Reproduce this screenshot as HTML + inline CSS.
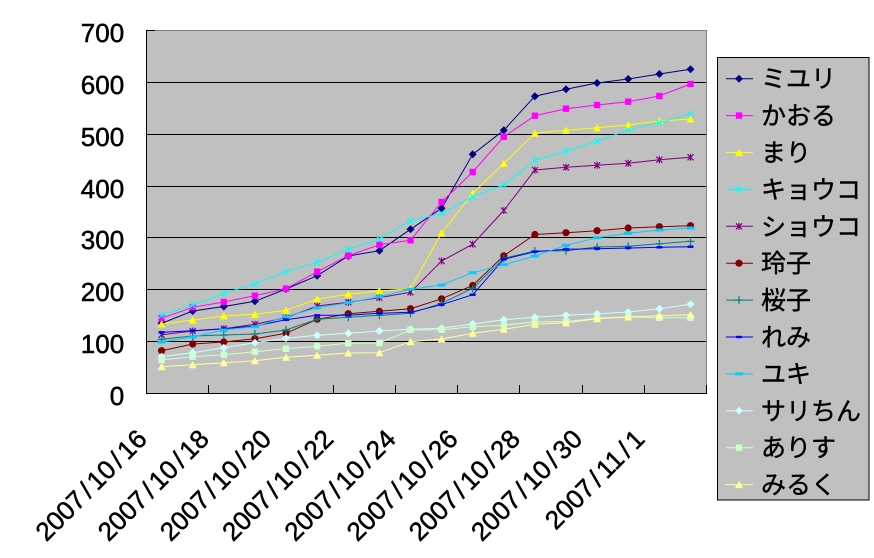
<!DOCTYPE html>
<html><head><meta charset="utf-8">
<style>
html,body{margin:0;padding:0;background:#fff;}
svg{display:block;}
.ax{font-family:"Liberation Sans",Arial,sans-serif;font-size:26px;fill:#000;stroke:#000;stroke-width:0.5;}
.lg{font-family:"Liberation Sans","Noto Sans CJK JP",sans-serif;font-size:25px;fill:#000;stroke:#000;stroke-width:0.4;}
polyline{fill:none;stroke-width:1;}
</style></head>
<body>
<svg width="874" height="558" viewBox="0 0 874 558" xmlns="http://www.w3.org/2000/svg">
<defs>
<marker id="m1" markerUnits="userSpaceOnUse" markerWidth="10" markerHeight="10" refX="0" refY="0" overflow="visible"><polygon points="0,-4 4,0 0,4 -4,0" fill="#000080"/></marker>
<marker id="m2" markerUnits="userSpaceOnUse" markerWidth="10" markerHeight="10" refX="0" refY="0" overflow="visible"><rect x="-3.2" y="-3.2" width="6.4" height="6.4" fill="#FF00FF"/></marker>
<marker id="m3" markerUnits="userSpaceOnUse" markerWidth="10" markerHeight="10" refX="0" refY="0" overflow="visible"><polygon points="0,-3.8 4,3.5 -4,3.5" fill="#FFFF00"/></marker>
<marker id="m4" markerUnits="userSpaceOnUse" markerWidth="10" markerHeight="10" refX="0" refY="0" overflow="visible"><path d="M-3,-3L3,3M-3,3L3,-3" stroke="#00FFFF" stroke-width="1.2" fill="none"/></marker>
<marker id="m5" markerUnits="userSpaceOnUse" markerWidth="10" markerHeight="10" refX="0" refY="0" overflow="visible"><path d="M-3,-3L3,3M-3,3L3,-3M0,-3.5V3.5" stroke="#800080" stroke-width="1.2" fill="none"/></marker>
<marker id="m6" markerUnits="userSpaceOnUse" markerWidth="10" markerHeight="10" refX="0" refY="0" overflow="visible"><circle r="3.6" fill="#800000"/></marker>
<marker id="m7" markerUnits="userSpaceOnUse" markerWidth="10" markerHeight="10" refX="0" refY="0" overflow="visible"><path d="M-4,0H4M0,-4V4" stroke="#008080" stroke-width="1.2" fill="none"/></marker>
<marker id="m8" markerUnits="userSpaceOnUse" markerWidth="10" markerHeight="10" refX="0" refY="0" overflow="visible"><rect x="-3" y="-1.2" width="6" height="2.4" fill="#0000FF"/></marker>
<marker id="m9" markerUnits="userSpaceOnUse" markerWidth="10" markerHeight="10" refX="0" refY="0" overflow="visible"><rect x="-4" y="-1.5" width="8" height="3" fill="#00CCFF"/></marker>
<marker id="m10" markerUnits="userSpaceOnUse" markerWidth="10" markerHeight="10" refX="0" refY="0" overflow="visible"><polygon points="0,-4 4,0 0,4 -4,0" fill="#CCFFFF"/></marker>
<marker id="m11" markerUnits="userSpaceOnUse" markerWidth="10" markerHeight="10" refX="0" refY="0" overflow="visible"><rect x="-3.2" y="-3.2" width="6.4" height="6.4" fill="#CCFFCC"/></marker>
<marker id="m12" markerUnits="userSpaceOnUse" markerWidth="10" markerHeight="10" refX="0" refY="0" overflow="visible"><polygon points="0,-3.8 4,3.5 -4,3.5" fill="#FFFF99"/></marker>
</defs>

<!-- plot area -->
<rect x="146" y="30" width="560" height="363" fill="#C0C0C0"/>
<g shape-rendering="crispEdges">
<line x1="146" y1="30.5" x2="706" y2="30.5" stroke="#808080"/>
<line x1="706.5" y1="30" x2="706.5" y2="393" stroke="#808080"/>
<g stroke="#000" stroke-width="1">
<line x1="146" y1="82.5" x2="706" y2="82.5"/>
<line x1="146" y1="134.5" x2="706" y2="134.5"/>
<line x1="146" y1="186.5" x2="706" y2="186.5"/>
<line x1="146" y1="237.5" x2="706" y2="237.5"/>
<line x1="146" y1="289.5" x2="706" y2="289.5"/>
<line x1="146" y1="341.5" x2="706" y2="341.5"/>
<line x1="146" y1="30.5" x2="155" y2="30.5"/>
<line x1="146.5" y1="30" x2="146.5" y2="394"/>
<line x1="146" y1="393.5" x2="707" y2="393.5"/>
<line x1="208.5" y1="385" x2="208.5" y2="393"/>
<line x1="270.5" y1="385" x2="270.5" y2="393"/>
<line x1="333.5" y1="385" x2="333.5" y2="393"/>
<line x1="395.5" y1="385" x2="395.5" y2="393"/>
<line x1="457.5" y1="385" x2="457.5" y2="393"/>
<line x1="519.5" y1="385" x2="519.5" y2="393"/>
<line x1="582.5" y1="385" x2="582.5" y2="393"/>
<line x1="644.5" y1="385" x2="644.5" y2="393"/>
<line x1="706.5" y1="385" x2="706.5" y2="393"/>
</g>
</g>

<!-- series -->
<polyline stroke="#000080" style="marker-start:url(#m1);marker-mid:url(#m1);marker-end:url(#m1)" points="161.6,323.3 192.7,311 223.8,306.5 254.9,301.3 286,289 317.2,275.7 348.3,256 379.4,250.7 410.5,229.3 441.6,208.3 472.7,154.3 503.8,130.3 534.9,96.2 566,89.3 597.1,83 628.2,79 659.4,74 690.5,69.3"/>
<polyline stroke="#FF00FF" style="marker-start:url(#m2);marker-mid:url(#m2);marker-end:url(#m2)" points="161.6,318.3 192.7,307.3 223.8,302 254.9,295.7 286,288.7 317.2,271.7 348.3,255.7 379.4,244.7 410.5,240.3 441.6,202 472.7,172 503.8,136.8 534.9,115.7 566,108.7 597.1,105 628.2,101.7 659.4,96 690.5,84"/>
<polyline stroke="#FFFF00" style="marker-start:url(#m3);marker-mid:url(#m3);marker-end:url(#m3)" points="161.6,324 192.7,320 223.8,316 254.9,314.3 286,310.3 317.2,299 348.3,294.3 379.4,291 410.5,288.7 441.6,233 472.7,193.3 503.8,163.5 534.9,133.2 566,130.3 597.1,127.7 628.2,125 659.4,121 690.5,119"/>
<polyline stroke="#00FFFF" style="marker-start:url(#m4);marker-mid:url(#m4);marker-end:url(#m4)" points="161.6,315.3 192.7,305 223.8,293.3 254.9,284 286,271.7 317.2,262.3 348.3,249.3 379.4,239 410.5,221 441.6,213.5 472.7,196.7 503.8,185 534.9,160.5 566,151 597.1,141.3 628.2,130 659.4,122.7 690.5,114"/>
<polyline stroke="#800080" style="marker-start:url(#m5);marker-mid:url(#m5);marker-end:url(#m5)" points="161.6,334.7 192.7,331 223.8,328.7 254.9,324.3 286,317.7 317.2,306 348.3,302.3 379.4,297.7 410.5,292.3 441.6,261 472.7,244.2 503.8,210.5 534.9,170 566,167.3 597.1,165.3 628.2,163.3 659.4,159.7 690.5,157.3"/>
<polyline stroke="#800000" style="marker-start:url(#m6);marker-mid:url(#m6);marker-end:url(#m6)" points="161.6,350.7 192.7,344 223.8,342 254.9,338.7 286,333.3 317.2,319.3 348.3,313.7 379.4,311.3 410.5,308.7 441.6,298.8 472.7,285.5 503.8,255.8 534.9,234.5 566,232.7 597.1,230.7 628.2,228 659.4,226.7 690.5,225.7"/>
<polyline stroke="#008080" style="marker-start:url(#m7);marker-mid:url(#m7);marker-end:url(#m7)" points="161.6,339.3 192.7,336 223.8,335 254.9,334 286,330 317.2,319.3 348.3,317.3 379.4,315.3 410.5,313.3 441.6,303.3 472.7,288.3 503.8,258.3 534.9,251 566,250.7 597.1,247 628.2,246.3 659.4,243.7 690.5,241.3"/>
<polyline stroke="#0000FF" style="marker-start:url(#m8);marker-mid:url(#m8);marker-end:url(#m8)" points="161.6,332.3 192.7,330.7 223.8,328.7 254.9,326 286,319.7 317.2,315.3 348.3,315.3 379.4,313.3 410.5,312.3 441.6,304.7 472.7,294.7 503.8,259.3 534.9,251.7 566,249.3 597.1,248.7 628.2,248 659.4,247.3 690.5,246.7"/>
<polyline stroke="#00CCFF" style="marker-start:url(#m9);marker-mid:url(#m9);marker-end:url(#m9)" points="161.6,342 192.7,337 223.8,330 254.9,326.7 286,316.7 317.2,307.7 348.3,302.7 379.4,296.7 410.5,289.3 441.6,285 472.7,272.7 503.8,264.7 534.9,256 566,245.3 597.1,237.7 628.2,233.3 659.4,230 690.5,228"/>
<polyline stroke="#CCFFFF" style="marker-start:url(#m10);marker-mid:url(#m10);marker-end:url(#m10)" points="161.6,356.7 192.7,352.7 223.8,347.7 254.9,342.7 286,338.3 317.2,335.3 348.3,333.3 379.4,331 410.5,329.3 441.6,328.3 472.7,324 503.8,319.7 534.9,317.3 566,315.3 597.1,313.7 628.2,312 659.4,308.7 690.5,304.3"/>
<polyline stroke="#CCFFCC" style="marker-start:url(#m11);marker-mid:url(#m11);marker-end:url(#m11)" points="161.6,360 192.7,356.7 223.8,354.7 254.9,351.7 286,348.7 317.2,346.3 348.3,343.3 379.4,343 410.5,330 441.6,329.7 472.7,326.7 503.8,325.3 534.9,321.7 566,321.7 597.1,318 628.2,317 659.4,317.7 690.5,317.7"/>
<polyline stroke="#FFFF99" style="marker-start:url(#m12);marker-mid:url(#m12);marker-end:url(#m12)" points="161.6,366.7 192.7,364.7 223.8,362.7 254.9,360.7 286,357.3 317.2,355.3 348.3,353 379.4,352.7 410.5,341.7 441.6,339 472.7,333.3 503.8,329.3 534.9,324.3 566,322.7 597.1,318.7 628.2,317 659.4,315.7 690.5,314.7"/>

<!-- y axis labels -->
<g class="ax" text-anchor="end">
<text x="124.2" y="42">700</text>
<text x="124.2" y="94">600</text>
<text x="124.2" y="146">500</text>
<text x="124.2" y="198">400</text>
<text x="124.2" y="249">300</text>
<text x="124.2" y="301">200</text>
<text x="124.2" y="353">100</text>
<text x="124.2" y="405">0</text>
</g>

<!-- x axis labels -->
<g class="ax" text-anchor="end">
<text transform="translate(148.3,440.5) rotate(-45)">2007<tspan dx="3.5">/</tspan><tspan dx="3.5">10</tspan><tspan dx="3.5">/</tspan><tspan dx="3.5">16</tspan></text>
<text transform="translate(210.5,440.5) rotate(-45)">2007<tspan dx="3.5">/</tspan><tspan dx="3.5">10</tspan><tspan dx="3.5">/</tspan><tspan dx="3.5">18</tspan></text>
<text transform="translate(272.7,440.5) rotate(-45)">2007<tspan dx="3.5">/</tspan><tspan dx="3.5">10</tspan><tspan dx="3.5">/</tspan><tspan dx="3.5">20</tspan></text>
<text transform="translate(334.9,440.5) rotate(-45)">2007<tspan dx="3.5">/</tspan><tspan dx="3.5">10</tspan><tspan dx="3.5">/</tspan><tspan dx="3.5">22</tspan></text>
<text transform="translate(397.2,440.5) rotate(-45)">2007<tspan dx="3.5">/</tspan><tspan dx="3.5">10</tspan><tspan dx="3.5">/</tspan><tspan dx="3.5">24</tspan></text>
<text transform="translate(459.4,440.5) rotate(-45)">2007<tspan dx="3.5">/</tspan><tspan dx="3.5">10</tspan><tspan dx="3.5">/</tspan><tspan dx="3.5">26</tspan></text>
<text transform="translate(521.6,440.5) rotate(-45)">2007<tspan dx="3.5">/</tspan><tspan dx="3.5">10</tspan><tspan dx="3.5">/</tspan><tspan dx="3.5">28</tspan></text>
<text transform="translate(583.8,440.5) rotate(-45)">2007<tspan dx="3.5">/</tspan><tspan dx="3.5">10</tspan><tspan dx="3.5">/</tspan><tspan dx="3.5">30</tspan></text>
<text transform="translate(646.1,440.5) rotate(-45)">2007<tspan dx="3.5">/</tspan><tspan dx="3.5">11</tspan><tspan dx="3.5">/</tspan><tspan dx="3.5">1</tspan></text>
</g>

<!-- legend -->
<rect x="717.5" y="57.5" width="151.5" height="442.5" fill="#C0C0C0" stroke="#000" stroke-width="1" shape-rendering="crispEdges"/>
<polyline stroke="#000080" style="marker-mid:url(#m1)" points="726,78.7 739,78.7 753,78.7"/>
<polyline stroke="#FF00FF" style="marker-mid:url(#m2)" points="726,115.6 739,115.6 753,115.6"/>
<polyline stroke="#FFFF00" style="marker-mid:url(#m3)" points="726,152.5 739,152.5 753,152.5"/>
<polyline stroke="#00FFFF" style="marker-mid:url(#m4)" points="726,189.4 739,189.4 753,189.4"/>
<polyline stroke="#800080" style="marker-mid:url(#m5)" points="726,226.3 739,226.3 753,226.3"/>
<polyline stroke="#800000" style="marker-mid:url(#m6)" points="726,263.2 739,263.2 753,263.2"/>
<polyline stroke="#008080" style="marker-mid:url(#m7)" points="726,300.1 739,300.1 753,300.1"/>
<polyline stroke="#0000FF" style="marker-mid:url(#m8)" points="726,337 739,337 753,337"/>
<polyline stroke="#00CCFF" style="marker-mid:url(#m9)" points="726,373.9 739,373.9 753,373.9"/>
<polyline stroke="#CCFFFF" style="marker-mid:url(#m10)" points="726,410.8 739,410.8 753,410.8"/>
<polyline stroke="#CCFFCC" style="marker-mid:url(#m11)" points="726,447.7 739,447.7 753,447.7"/>
<polyline stroke="#FFFF99" style="marker-mid:url(#m12)" points="726,484.6 739,484.6 753,484.6"/>
<g class="lg">
<text x="761" y="87.7">ミユリ</text>
<text x="761" y="124.6">かおる</text>
<text x="761" y="161.5">まり</text>
<text x="761" y="198.4">キョウコ</text>
<text x="761" y="235.3">ショウコ</text>
<text x="761" y="272.2">玲子</text>
<text x="761" y="309.1">桜子</text>
<text x="761" y="346">れみ</text>
<text x="761" y="382.9">ユキ</text>
<text x="761" y="419.8">サリちん</text>
<text x="761" y="456.7">ありす</text>
<text x="761" y="493.6">みるく</text>
</g>
</svg>
</body></html>
